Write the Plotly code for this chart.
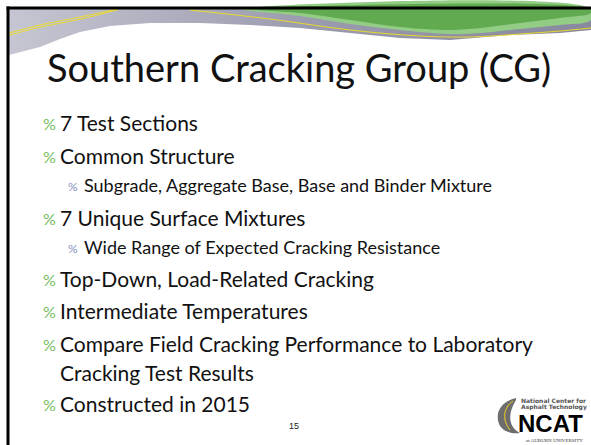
import plotly.graph_objects as go

# ---- content ----
title_text = "Southern Cracking Group (CG)"
bullet_texts = [
    "7 Test Sections",
    "Common Structure",
    "Subgrade, Aggregate Base, Base and Binder Mixture",
    "7 Unique Surface Mixtures",
    "Wide Range of Expected Cracking Resistance",
    "Top-Down, Load-Related Cracking",
    "Intermediate Temperatures",
    "Compare Field Cracking Performance to Laboratory",
    "Cracking Test Results",
    "Constructed in 2015",
]
bullet_levels = [1, 1, 2, 1, 2, 1, 1, 1, 0, 1]   # 0 = continuation line
bullet_rows = [122, 155, 185, 217, 247, 278, 310, 343, 372, 403]
page_number = "15"

W, H = 591, 445
FONT = "Lato"

fig = go.Figure()

# ---- decorative header wave ----
gx = [9, 591, 591, 560, 511, 450, 400, 350, 300, 250, 200, 150, 110, 80, 60, 40, 20, 9, 9]
gy = [9, 9, 30, 33, 35, 40, 38, 33, 28, 25, 23, 23, 26, 32, 39, 47, 52, 55, 9]
fig.add_trace(go.Scatter(x=gx, y=gy, mode="lines", fill="toself",
                         line=dict(width=0, color="rgba(0,0,0,0)"),
                         fillgradient=dict(type="horizontal",
                                           colorscale=[[0, "#c6c6d2"], [0.5, "#9c9cb0"], [1, "#88889e"]]),
                         hoverinfo="skip", showlegend=False))
# light green strip
lgx = [240, 591, 591, 560, 520, 480, 450, 400, 350, 300, 240]
lgy = [9, 9, 20, 25, 29, 33, 34, 30, 24, 16, 9]
fig.add_trace(go.Scatter(x=lgx, y=lgy, mode="lines", fill="toself", line=dict(width=0, shape="spline"),
                         fillcolor="#93cc85", hoverinfo="skip", showlegend=False))
dgx = [250, 591, 591, 560, 520, 480, 450, 400, 350, 300, 250]
dgy = [9, 9, 13, 18, 23, 28, 30, 27, 20, 13, 9]
fig.add_trace(go.Scatter(x=dgx, y=dgy, mode="lines", fill="toself", line=dict(width=0, shape="spline"),
                         fillcolor="#62aa50", hoverinfo="skip", showlegend=False))
# yellow road lines
for off in (0, 2.2):
    fig.add_trace(go.Scatter(x=[9, 40, 80, 118], y=[33 + off, 25 + off, 17 + off, 9 + off * 0.3], mode="lines",
                             line=dict(color="#f0e020", width=0.9, shape="spline"),
                             hoverinfo="skip", showlegend=False))
fig.add_trace(go.Scatter(x=[190, 270, 350, 420, 470, 520, 560, 591], y=[10, 19, 30, 36, 37, 34, 31, 28],
                         mode="lines", line=dict(color="#f0e020", width=0.9, shape="spline"),
                         hoverinfo="skip", showlegend=False))

shapes = [
    dict(type="rect", x0=6.5, x1=W + 5, y0=6.5, y1=9.5, fillcolor="black", line=dict(width=0), layer="above"),
    dict(type="rect", x0=6.5, x1=9.5, y0=6.5, y1=H + 5, fillcolor="black", line=dict(width=0), layer="above"),
    # NCAT logo swoosh
    dict(type="path", path="M 516 398 C 500 402, 494 414, 500 426 C 504 432, 512 434, 520 433 "
                            "C 510 428, 506 416, 516 400 Z",
         fillcolor="#6d6d6d", line=dict(width=0)),
    dict(type="path", path="M 513 401 C 503 408, 502 420, 510 430",
         line=dict(color="#f2d21a", width=1)),
]

annotations = [
    dict(x=45, y=67, text=title_text, showarrow=False, xanchor="left", yanchor="middle",
         font=dict(family=FONT, size=38, color="#111111")),
    dict(x=294, y=426, text=page_number, showarrow=False, xanchor="center", yanchor="middle",
         font=dict(family="Liberation Sans", size=9, color="#222222")),
]
for txt, lvl, yy in zip(bullet_texts, bullet_levels, bullet_rows):
    if lvl == 1:
        annotations.append(dict(x=41, y=yy + 1, text="%", showarrow=False, xanchor="left", yanchor="middle",
                                font=dict(family=FONT, size=16, color="#74bd60")))
        annotations.append(dict(x=58, y=yy, text=txt, showarrow=False, xanchor="left", yanchor="middle",
                                font=dict(family=FONT, size=21, color="#111111")))
    elif lvl == 2:
        annotations.append(dict(x=66, y=yy + 1, text="%", showarrow=False, xanchor="left", yanchor="middle",
                                font=dict(family=FONT, size=12, color="#7f8fc0")))
        annotations.append(dict(x=82, y=yy, text=txt, showarrow=False, xanchor="left", yanchor="middle",
                                font=dict(family=FONT, size=18, color="#111111")))
    else:
        annotations.append(dict(x=58, y=yy, text=txt, showarrow=False, xanchor="left", yanchor="middle",
                                font=dict(family=FONT, size=21, color="#111111")))

# logo text
annotations += [
    dict(x=519, y=400, text="<b>National Center for</b>", showarrow=False, xanchor="left", yanchor="middle",
         font=dict(family="DejaVu Sans", size=6, color="#555555")),
    dict(x=519, y=407, text="<b>Asphalt Technology</b>", showarrow=False, xanchor="left", yanchor="middle",
         font=dict(family="DejaVu Sans", size=6, color="#555555")),
    dict(x=516, y=423, text="<b>NCAT</b>", showarrow=False, xanchor="left", yanchor="middle",
         font=dict(family="Liberation Sans", size=24, color="#000000")),
    dict(x=524, y=440, text="at AUBURN UNIVERSITY", showarrow=False, xanchor="left", yanchor="middle",
         font=dict(family="Liberation Serif", size=5, color="#333333")),
]

fig.update_layout(
    width=W, height=H, margin=dict(l=0, r=0, t=0, b=0),
    paper_bgcolor="white", plot_bgcolor="white",
    xaxis=dict(range=[0, W], visible=False, fixedrange=True),
    yaxis=dict(range=[H, 0], visible=False, fixedrange=True),
    shapes=shapes, annotations=annotations, showlegend=False,
)
fig.write_html("out.html", config={"displayModeBar": False},
               post_script="document.body.style.margin='0px';document.body.style.overflow='hidden';")
